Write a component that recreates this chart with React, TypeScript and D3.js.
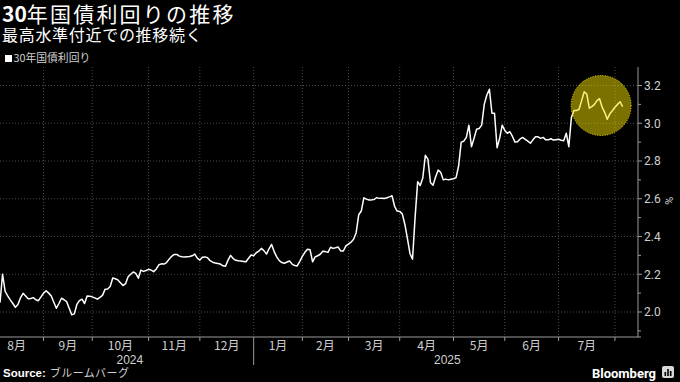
import React from "react";
import * as d3 from "d3";

// ---- data: daily 30-year JGB yield (%), grouped by month (Japanese trading days) ----
const aug2024 = [2.05, 2.2, 2.11, 2.085, 2.064, 2.045, 2.025, 2.04, 2.075, 2.099, 2.085, 2.07, 2.072, 2.076, 2.065, 2.06, 2.08];
const sep2024 = [2.1, 2.113, 2.1, 2.085, 2.052, 2.02, 2.045, 2.073, 2.065, 2.055, 2.02, 1.985, 1.99, 2.04, 2.06, 2.068, 2.045, 2.085, 2.084];
const oct2024 = [2.08, 2.075, 2.068, 2.078, 2.088, 2.12, 2.122, 2.135, 2.18, 2.176, 2.17, 2.155, 2.14, 2.15, 2.187, 2.2, 2.212, 2.205, 2.179, 2.222, 2.215, 2.22];
const nov2024 = [2.226, 2.222, 2.214, 2.228, 2.25, 2.255, 2.254, 2.262, 2.28, 2.295, 2.305, 2.305, 2.296, 2.293, 2.292, 2.293, 2.294, 2.298, 2.307, 2.285];
const dec2024 = [2.275, 2.29, 2.292, 2.288, 2.272, 2.264, 2.26, 2.257, 2.254, 2.245, 2.242, 2.275, 2.3, 2.283, 2.274, 2.271, 2.27, 2.268, 2.266, 2.285, 2.302];
const jan2025 = [2.298, 2.314, 2.322, 2.337, 2.325, 2.307, 2.335, 2.358, 2.32, 2.292, 2.272, 2.262, 2.258, 2.265, 2.27, 2.254, 2.246, 2.244, 2.268];
const feb2025 = [2.295, 2.316, 2.332, 2.33, 2.266, 2.292, 2.298, 2.306, 2.322, 2.32, 2.316, 2.343, 2.337, 2.34, 2.344, 2.323, 2.323, 2.35];
const mar2025 = [2.36, 2.37, 2.385, 2.42, 2.515, 2.535, 2.605, 2.598, 2.593, 2.594, 2.596, 2.606, 2.602, 2.603, 2.601, 2.605, 2.61, 2.616, 2.56, 2.535];
const apr2025 = [2.533, 2.52, 2.465, 2.39, 2.31, 2.28, 2.5, 2.69, 2.67, 2.71, 2.83, 2.81, 2.686, 2.672, 2.715, 2.752, 2.74, 2.7, 2.704, 2.7, 2.703];
const may2025 = [2.706, 2.712, 2.775, 2.9, 2.905, 2.925, 2.99, 2.876, 2.92, 2.968, 2.972, 2.99, 3.1, 3.15, 3.18, 3.053, 3.053, 2.87, 2.92, 2.99];
const jun2025 = [2.962, 2.947, 2.955, 2.93, 2.9, 2.902, 2.917, 2.925, 2.915, 2.905, 2.894, 2.912, 2.928, 2.928, 2.92, 2.925, 2.912, 2.912, 2.918, 2.911, 2.913];
const jul2025 = [2.915, 2.91, 2.907, 2.947, 2.876, 3.03, 3.067, 3.067, 3.074, 3.12, 3.167, 3.155, 3.08, 3.088, 3.1, 3.12, 3.13, 3.085, 3.058, 3.021, 3.05, 3.066];
const aug2025 = [3.085, 3.1, 3.114, 3.088];

// trading days per month Aug 2024 .. Aug 2025; series starts after the first 4 of Aug 2024
const monthTradingDays = [21, 19, 22, 20, 21, 19, 18, 20, 21, 20, 21, 22, 21];
const hiddenDaysAtStart = 4;
const monthLabels = ["8月", "9月", "10月", "11月", "12月", "1月", "2月", "3月", "4月", "5月", "6月", "7月"];
const yearLabels = ["2024", "2025"];
const yTicks = [2.0, 2.2, 2.4, 2.6, 2.8, 3.0, 3.2];
const yMinorTicks = [1.9, 2.1, 2.3, 2.5, 2.7, 2.9, 3.1];

const title = "年国債利回りの推移";
const subtitle = "最高水準付近での推移続く";
const legendLabel = "30年国債利回り";

// highlight circle (index position, yield value)
const highlight = { index: 234.6, value: 3.094 };

const series = [
  ...aug2024, ...sep2024, ...oct2024, ...nov2024, ...dec2024, ...jan2025,
  ...feb2025, ...mar2025, ...apr2025, ...may2025, ...jun2025, ...jul2025, ...aug2025,
];

export default function App() {
  const W = 680;
  const H = 382;
  const plotLeft = 0;
  const plotRight = 638;
  const plotTop = 67;
  const plotBottom = 337;

  const x = d3.scaleLinear().domain([0, 249]).range([plotLeft, plotRight]);
  const y = d3.scaleLinear().domain([2.0, 3.2]).range([312, 85.5]);

  const starts: number[] = [];
  let acc = -hiddenDaysAtStart;
  monthTradingDays.forEach((n) => {
    starts.push(acc);
    acc += n;
  });
  const boundaries = starts.slice(1);
  const janIndex = starts[5];

  const line = d3
    .line<number>()
    .x((_, i) => x(i))
    .y((d) => y(d));

  const cjk = "'Noto Sans CJK JP', 'Noto Sans', sans-serif";
  const narrow = "'Liberation Sans Narrow', 'Roboto', 'Noto Sans', sans-serif";
  const sans = "'Liberation Sans', 'Noto Sans', sans-serif";
  const gridColor = "#4a4a4a";
  const axisColor = "#9a9a9a";
  const labelColor = "#d0d0d0";
  const yellow = "#f5e100";

  const year2024Center = (x(0) + x(janIndex)) / 2 + 3;
  const year2025Center = (x(janIndex) + plotRight + 3) / 2;

  return (
    <svg width={W} height={H} style={{ position: "absolute", left: 0, top: 0, display: "block" }}>
      <rect x={0} y={0} width={W} height={H} fill="#000" />

      {/* titles */}
      <text x={2} y={21.5} fill="#fff" fontFamily={cjk} fontSize={21}>
        <tspan fontWeight={700}>30</tspan>
        <tspan letterSpacing={2.2}>{title}</tspan>
      </text>
      <text x={2} y={40.5} fill="#fff" fontFamily={cjk} fontSize={16} letterSpacing={0.7}>
        {subtitle}
      </text>

      {/* legend */}
      <rect x={5} y={55} width={7} height={7} fill="#fff" />
      <text x={13.5} y={62} fill={labelColor} fontFamily={cjk} fontSize={10.8}>
        {legendLabel}
      </text>

      {/* horizontal grid */}
      {yTicks.map((t) => (
        <line key={"hg" + t} x1={plotLeft} x2={plotRight} y1={y(t)} y2={y(t)} stroke={gridColor} strokeDasharray="1 2" />
      ))}
      {/* vertical grid */}
      {boundaries.map((b) => (
        <line key={"vg" + b} x1={x(b)} x2={x(b)} y1={plotTop} y2={plotBottom} stroke={gridColor} strokeDasharray="1 2" />
      ))}

      {/* series line */}
      <path d={line(series) || ""} fill="none" stroke="#fff" strokeWidth={1.5} strokeLinejoin="round" />

      {/* highlight circle */}
      <circle
        cx={x(highlight.index)}
        cy={y(highlight.value)}
        r={30}
        fill={yellow}
        fillOpacity={0.5}
        stroke={yellow}
        strokeWidth={1}
        strokeDasharray="1 1.5"
      />

      {/* y axis (right) */}
      <line x1={plotRight} x2={plotRight} y1={plotTop} y2={plotBottom} stroke={axisColor} />
      {yTicks.map((t) => (
        <g key={"yt" + t}>
          <line x1={plotRight} x2={plotRight + 4} y1={y(t)} y2={y(t)} stroke={axisColor} />
          <text x={plotRight + 6} y={y(t)} dy="0.36em" fill={labelColor} fontFamily={narrow} fontSize={12}>
            {t.toFixed(1)}
          </text>
        </g>
      ))}
      {yMinorTicks.map((t) => (
        <line key={"ym" + t} x1={plotRight} x2={plotRight + 3} y1={y(t)} y2={y(t)} stroke={axisColor} />
      ))}
      <text
        transform={`translate(${665},${y(2.6) + 2}) rotate(90)`}
        textAnchor="middle"
        fill={labelColor}
        fontFamily={narrow}
        fontSize={11}
      >
        %
      </text>

      {/* x axis */}
      <line x1={plotLeft} x2={plotRight + 3} y1={plotBottom} y2={plotBottom} stroke={axisColor} />
      {boundaries.map((b) => (
        <line
          key={"xt" + b}
          x1={x(b)}
          x2={x(b)}
          y1={plotBottom}
          y2={b === janIndex ? 365 : plotBottom + 4}
          stroke={axisColor}
        />
      ))}
      {monthLabels.map((m, i) => (
        <text
          key={"ml" + m}
          x={x((starts[i] + starts[i + 1]) / 2)}
          y={349.5}
          textAnchor="middle"
          fill={labelColor}
          fontFamily={cjk}
          fontSize={12}
        >
          {m}
        </text>
      ))}
      <text x={year2024Center} y={363.5} textAnchor="middle" fill={labelColor} fontFamily={sans} fontSize={12}>
        {yearLabels[0]}
      </text>
      <text x={year2025Center} y={363.5} textAnchor="middle" fill={labelColor} fontFamily={sans} fontSize={12}>
        {yearLabels[1]}
      </text>

      {/* footer */}
      <text x={3} y={377} fill="#fff" fontFamily={sans} fontSize={11.5}>
        <tspan fontWeight={700}>Source:</tspan>
        <tspan fill={labelColor} fontFamily={cjk} fontSize={11} letterSpacing={0.4} dx={4}>
          ブルームバーグ
        </tspan>
      </text>
      <text x={656} y={378} textAnchor="end" fill="#fff" fontFamily={narrow} fontWeight={700} fontSize={13}>
        Bloomberg
      </text>
      <rect x={662} y={366} width={12} height={12} rx={2} fill="#d8d8d8" />
      <rect x={664.5} y={372} width={1.6} height={4} fill="#000" />
      <rect x={667.2} y={369} width={1.6} height={7} fill="#000" />
      <rect x={669.9} y={371} width={1.6} height={5} fill="#000" />
    </svg>
  );
}
